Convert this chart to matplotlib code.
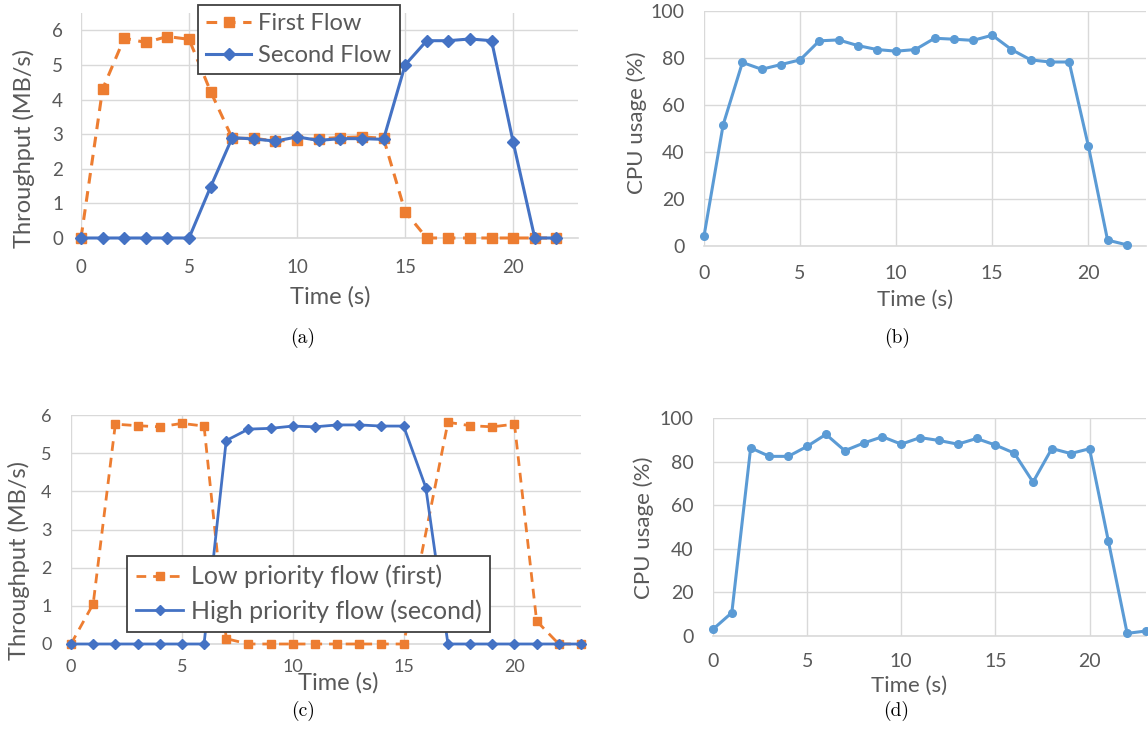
import matplotlib
matplotlib.use("Agg")
import matplotlib.pyplot as plt

W, H = 1148, 753

# ---- data ----
time_a = list(range(23))
first_flow = [0, 4.3, 5.77, 5.65, 5.82, 5.74, 4.23, 2.88, 2.88, 2.8, 2.83, 2.87, 2.9, 2.92, 2.88,
              0.76, 0, 0, 0, 0, 0, 0, 0]
second_flow = [0, 0, 0, 0, 0, 0, 1.48, 2.9, 2.86, 2.8, 2.92, 2.82, 2.87, 2.87, 2.85,
               5.0, 5.7, 5.7, 5.75, 5.7, 2.77, 0, 0]

time_b = list(range(23))
cpu_b = [4.2, 51.7, 78.1, 75.2, 77.2, 79.2, 87.3, 87.7, 85.3, 83.6, 82.9, 83.6, 88.4, 88.0,
         87.5, 89.7, 83.6, 79.2, 78.3, 78.3, 42.6, 2.5, 0.5]

time_low = [0, 1, 2, 3, 4, 5, 6, 7, 8, 9, 10, 11, 12, 13, 14, 15, 17, 18, 19, 20, 21, 22, 23]
low_flow = [0, 1.05, 5.76, 5.72, 5.69, 5.78, 5.71, 0.14, 0, 0, 0, 0, 0, 0, 0, 0,
            5.81, 5.72, 5.69, 5.76, 0.6, 0, 0]
time_high = list(range(24))
high_flow = [0, 0, 0, 0, 0, 0, 0, 5.33, 5.63, 5.65, 5.71, 5.69, 5.74, 5.74, 5.71, 5.71, 4.1,
             0, 0, 0, 0, 0, 0, 0]

time_d = list(range(24))
cpu_d = [3.1, 10.7, 86.3, 82.4, 82.4, 87.0, 92.5, 85.0, 88.5, 91.4, 88.0, 91.0, 89.7, 88.0,
         90.6, 87.6, 83.9, 70.6, 86.0, 83.7, 85.9, 43.6, 1.2, 2.3]

x_ticks = [0, 5, 10, 15, 20]

ORANGE = "#ED7D31"
BLUE = "#4472C4"
LIGHT_BLUE = "#5B9BD5"
GRID = "#D9D9D9"
TXT = "#595959"
FONT = "Lato"

plt.rcParams["font.family"] = [FONT, "DejaVu Sans"]


def px_box(left, right, top, bottom):
    return [left / W, 1 - bottom / H, (right - left) / W, (bottom - top) / H]


def fxy(px, py):
    return px / W, 1 - py / H


def style(ax, ymax, yticks, fs, xpad, ypad):
    ax.set_xlim(0, 23)
    ax.set_ylim(0, ymax)
    ax.set_xticks(x_ticks)
    ax.set_yticks(yticks)
    ax.grid(True, color=GRID, lw=1)
    ax.set_axisbelow(True)
    for s in ["top", "right", "left"]:
        ax.spines[s].set_visible(False)
    ax.spines["bottom"].set_color(GRID)
    ax.spines["bottom"].set_linewidth(1.2)
    ax.tick_params(length=0, colors=TXT, labelsize=fs)
    ax.tick_params(axis="x", pad=xpad)
    ax.tick_params(axis="y", pad=ypad)


def labels(ax, xl, yl, fs):
    ax.set_xlabel("Time (s)", fontsize=fs, color=TXT, ha="center", va="center")
    ax.xaxis.set_label_coords(*fxy(*xl), transform=fig.transFigure)
    ax.set_ylabel(ax.get_ylabel(), fontsize=fs, color=TXT, ha="center", va="center")
    ax.yaxis.set_label_coords(*fxy(*yl), transform=fig.transFigure)


def legend(ax, corner, fs):
    leg = ax.legend(loc="upper left", bbox_to_anchor=fxy(*corner), bbox_transform=fig.transFigure,
                    fontsize=fs, frameon=True, fancybox=False, framealpha=1, edgecolor="#404040",
                    handlelength=1.9, handletextpad=0.3, borderpad=0.35, labelspacing=0.45,
                    borderaxespad=0, numpoints=1, labelcolor=TXT)
    leg.get_frame().set_linewidth(1.3)


fig = plt.figure(figsize=(W / 100, H / 100), dpi=100)

# (a)
ax_a = fig.add_axes(px_box(81, 578, 13, 238))
ax_a.plot(time_a, first_flow, color=ORANGE, lw=2.2, ls=(0, (3.5, 2.5)), marker="s",
          ms=6.5, label="First Flow", clip_on=False, zorder=3)
ax_a.plot(time_a, second_flow, color=BLUE, lw=2.2, marker="D", ms=6,
          label="Second Flow", clip_on=False, zorder=4)
style(ax_a, 6.5, range(7), 13.5, 15, 13)
ax_a.set_ylabel("Throughput (MB/s)")
labels(ax_a, (330, 297), (24, 148), 17)
legend(ax_a, (198, 5), 17)

# (b)
ax_b = fig.add_axes(px_box(704, 1146, 11, 246))
ax_b.plot(time_b, cpu_b, color=LIGHT_BLUE, lw=2.2, marker="o", ms=5.5, clip_on=False, zorder=3)
style(ax_b, 100, range(0, 101, 20), 14, 14, 14)
ax_b.set_ylabel("CPU usage (%)")
labels(ax_b, (915, 300), (637, 123), 16)

# (c)
ax_c = fig.add_axes(px_box(71, 581, 415, 644))
ax_c.plot(time_low, low_flow, color=ORANGE, lw=2, ls=(0, (3.5, 2.5)), marker="s",
          ms=6, label="Low priority flow (first)", clip_on=False, zorder=3)
ax_c.plot(time_high, high_flow, color=BLUE, lw=2, marker="D", ms=5,
          label="High priority flow (second)", clip_on=False, zorder=4)
style(ax_c, 6, range(7), 13, 11, 14)
ax_c.set_ylabel("Throughput (MB/s)")
labels(ax_c, (338, 683), (19, 560), 17)
legend(ax_c, (127, 556), 18)

# (d)
ax_d = fig.add_axes(px_box(713, 1146, 418, 636))
ax_d.plot(time_d, cpu_d, color=LIGHT_BLUE, lw=2.2, marker="o", ms=5.5, clip_on=False, zorder=3)
style(ax_d, 100, range(0, 101, 20), 14, 12, 14)
ax_d.set_ylabel("CPU usage (%)")
labels(ax_d, (909, 686), (644, 528), 16)

# captions
for cap, (x, y) in [("(a)", (303, 338)), ("(b)", (897, 338)), ("(c)", (303, 711)), ("(d)", (896, 711))]:
    fig.text(*fxy(x, y), cap, family="cmr10", fontsize=14, ha="center", va="center", color="black")

fig.savefig("out.png", dpi=100)
